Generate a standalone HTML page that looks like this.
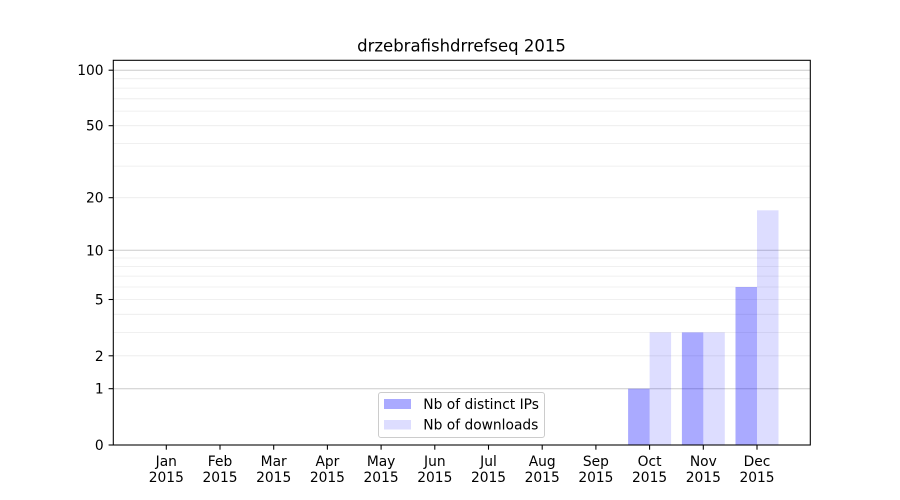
<!DOCTYPE html>
<html><head><meta charset="utf-8"><style>
html,body{margin:0;padding:0;background:#fff;}
svg{display:block;}
text{font-family:"DejaVu Sans","Liberation Sans",sans-serif;fill:#000;}
</style></head><body>
<svg width="900" height="500" viewBox="0 0 900 500" xmlns="http://www.w3.org/2000/svg">
<rect x="0" y="0" width="900" height="500" fill="#fff"/>
<!-- minor grid -->
<g stroke="#ebebeb" stroke-width="0.8">
<line x1="113.3" x2="810.3" y1="355.8" y2="355.8"/>
<line x1="113.3" x2="810.3" y1="332.4" y2="332.4"/>
<line x1="113.3" x2="810.3" y1="314.3" y2="314.3"/>
<line x1="113.3" x2="810.3" y1="299.5" y2="299.5"/>
<line x1="113.3" x2="810.3" y1="287.0" y2="287.0"/>
<line x1="113.3" x2="810.3" y1="276.1" y2="276.1"/>
<line x1="113.3" x2="810.3" y1="266.6" y2="266.6"/>
<line x1="113.3" x2="810.3" y1="258.0" y2="258.0"/>
<line x1="113.3" x2="810.3" y1="197.7" y2="197.7"/>
<line x1="113.3" x2="810.3" y1="166.1" y2="166.1"/>
<line x1="113.3" x2="810.3" y1="143.4" y2="143.4"/>
<line x1="113.3" x2="810.3" y1="125.7" y2="125.7"/>
<line x1="113.3" x2="810.3" y1="111.1" y2="111.1"/>
<line x1="113.3" x2="810.3" y1="98.8" y2="98.8"/>
<line x1="113.3" x2="810.3" y1="88.1" y2="88.1"/>
<line x1="113.3" x2="810.3" y1="78.7" y2="78.7"/>
</g>
<!-- major grid -->
<g stroke="#cccccc" stroke-width="1">
<line x1="113.3" x2="810.3" y1="388.7" y2="388.7"/>
<line x1="113.3" x2="810.3" y1="250.3" y2="250.3"/>
<line x1="113.3" x2="810.3" y1="70.2" y2="70.2"/>
</g>
<!-- bars -->
<g fill="#0000ff" fill-opacity="0.333">
<rect x="628.1" y="388.7" width="21.5" height="56.3"/>
<rect x="681.9" y="332.4" width="21.4" height="112.6"/>
<rect x="735.5" y="287.0" width="21.5" height="158.0"/>
</g>
<g fill="#0000ff" fill-opacity="0.133">
<rect x="649.6" y="332.4" width="21.5" height="112.6"/>
<rect x="703.3" y="332.4" width="21.5" height="112.6"/>
<rect x="757.0" y="210.3" width="21.5" height="234.7"/>
</g>
<!-- axes frame -->
<rect x="113.3" y="60.3" width="697" height="384.7" fill="none" stroke="#000" stroke-width="1.07"/>
<!-- y ticks -->
<g stroke="#000" stroke-width="1.07">
<line x1="108.6" x2="113.3" y1="445" y2="445"/>
<line x1="108.6" x2="113.3" y1="388.7" y2="388.7"/>
<line x1="108.6" x2="113.3" y1="355.8" y2="355.8"/>
<line x1="108.6" x2="113.3" y1="299.5" y2="299.5"/>
<line x1="108.6" x2="113.3" y1="250.3" y2="250.3"/>
<line x1="108.6" x2="113.3" y1="197.7" y2="197.7"/>
<line x1="108.6" x2="113.3" y1="125.7" y2="125.7"/>
<line x1="108.6" x2="113.3" y1="70.2" y2="70.2"/>
</g>
<g font-size="13.8" text-anchor="end">
<text x="103.6" y="450">0</text>
<text x="103.6" y="393.7">1</text>
<text x="103.6" y="360.8">2</text>
<text x="103.6" y="304.5">5</text>
<text x="103.6" y="255.3">10</text>
<text x="103.6" y="202.7">20</text>
<text x="103.6" y="130.7">50</text>
<text x="103.6" y="75.2">100</text>
</g>
<!-- x ticks -->
<g stroke="#000" stroke-width="1.07">
<line x1="166.3" x2="166.3" y1="445" y2="449.7"/>
<line x1="220.0" x2="220.0" y1="445" y2="449.7"/>
<line x1="273.7" x2="273.7" y1="445" y2="449.7"/>
<line x1="327.4" x2="327.4" y1="445" y2="449.7"/>
<line x1="381.1" x2="381.1" y1="445" y2="449.7"/>
<line x1="434.8" x2="434.8" y1="445" y2="449.7"/>
<line x1="488.5" x2="488.5" y1="445" y2="449.7"/>
<line x1="542.2" x2="542.2" y1="445" y2="449.7"/>
<line x1="595.9" x2="595.9" y1="445" y2="449.7"/>
<line x1="649.6" x2="649.6" y1="445" y2="449.7"/>
<line x1="703.3" x2="703.3" y1="445" y2="449.7"/>
<line x1="757.0" x2="757.0" y1="445" y2="449.7"/>
</g>
<g font-size="13.8" text-anchor="middle">
<text x="166.3" y="466">Jan</text><text x="166.3" y="482">2015</text>
<text x="220.0" y="466">Feb</text><text x="220.0" y="482">2015</text>
<text x="273.7" y="466">Mar</text><text x="273.7" y="482">2015</text>
<text x="327.4" y="466">Apr</text><text x="327.4" y="482">2015</text>
<text x="381.1" y="466">May</text><text x="381.1" y="482">2015</text>
<text x="434.8" y="466">Jun</text><text x="434.8" y="482">2015</text>
<text x="488.5" y="466">Jul</text><text x="488.5" y="482">2015</text>
<text x="542.2" y="466">Aug</text><text x="542.2" y="482">2015</text>
<text x="595.9" y="466">Sep</text><text x="595.9" y="482">2015</text>
<text x="649.6" y="466">Oct</text><text x="649.6" y="482">2015</text>
<text x="703.3" y="466">Nov</text><text x="703.3" y="482">2015</text>
<text x="757.0" y="466">Dec</text><text x="757.0" y="482">2015</text>
</g>
<!-- title -->
<text x="461.5" y="51.5" font-size="16.5" text-anchor="middle">drzebrafishdrrefseq 2015</text>
<!-- legend -->
<rect x="378.5" y="392.5" width="166" height="45" rx="2.5" ry="2.5" fill="#fff" fill-opacity="0.8" stroke="#cccccc" stroke-width="1"/>
<rect x="384" y="399" width="27" height="10" fill="#aaaaff"/>
<rect x="384" y="420" width="27" height="9.5" fill="#ddddff"/>
<text x="423.3" y="408.8" font-size="13.8">Nb of distinct IPs</text>
<text x="423.3" y="429.5" font-size="13.8">Nb of downloads</text>
</svg>
</body></html>
